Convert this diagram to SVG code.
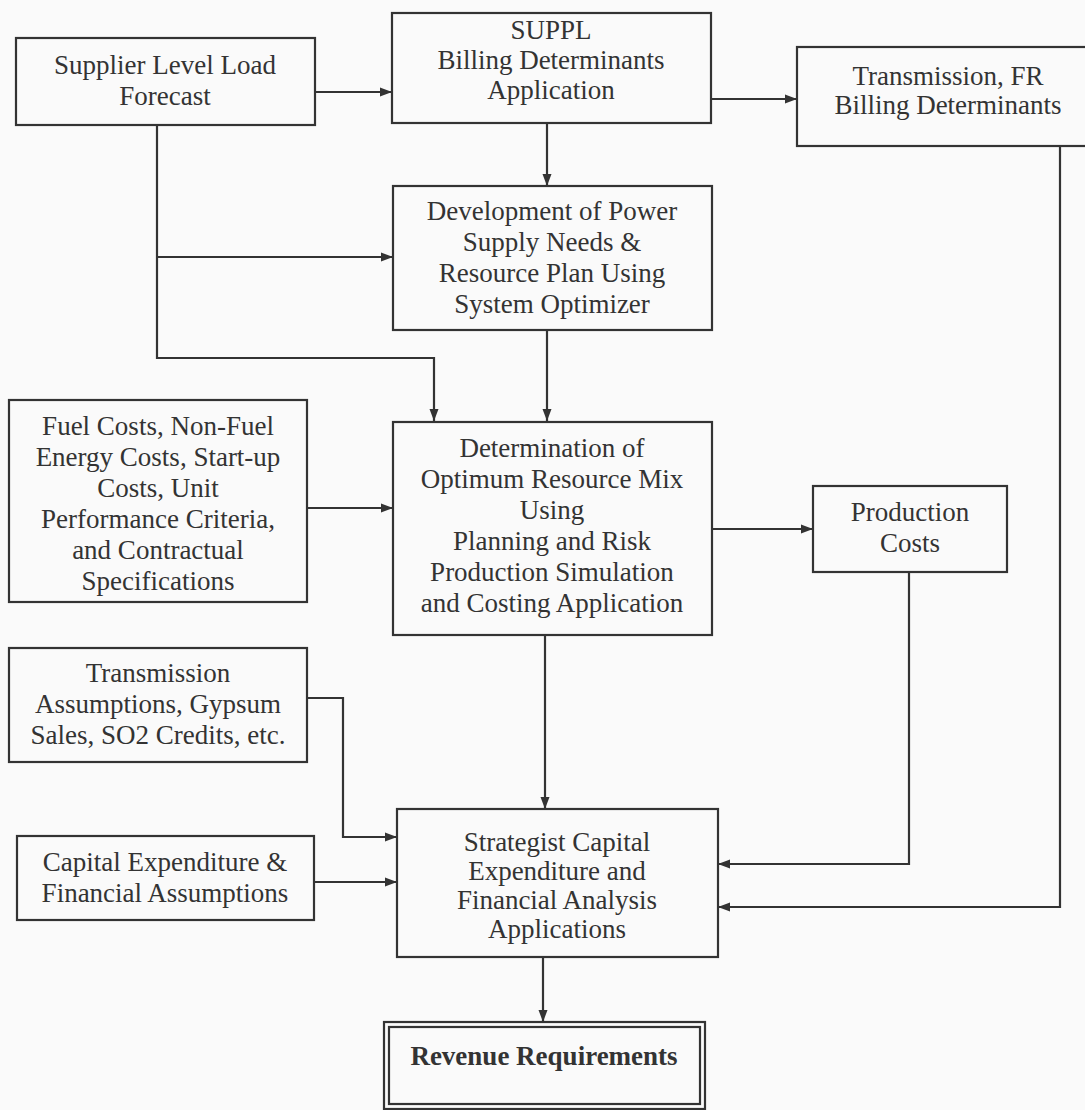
<svg xmlns="http://www.w3.org/2000/svg" width="1085" height="1110" viewBox="0 0 1085 1110">
<defs>
<marker id="arr" markerUnits="userSpaceOnUse" markerWidth="12" markerHeight="10" refX="12" refY="5" orient="auto">
<path d="M0,0.5 L12,5 L0,9.5 Z" fill="#333"/>
</marker>
<style>
.box{fill:none;stroke:#333;stroke-width:2.2}
.t{font-family:"Liberation Serif","Times New Roman",serif;font-size:27px;fill:#333;text-anchor:middle}
.b{font-weight:bold}
.c{fill:none;stroke:#333;stroke-width:2.2;marker-end:url(#arr)}
</style>
</defs>
<rect width="1085" height="1110" fill="#fafafa"/>

<g id="connectors">
<path class="c" d="M315,92 H392"/>
<path class="c" d="M711,99 H797"/>
<path class="c" d="M547,123 V186"/>
<path class="c" d="M157,125 V358 H434 V421"/>
<path class="c" d="M157,257 H393"/>
<path class="c" d="M547,330 V421"/>
<path class="c" d="M307,508 H393"/>
<path class="c" d="M712,529 H813"/>
<path class="c" d="M545,635 V809"/>
<path class="c" d="M307,698 H343 V837 H397"/>
<path class="c" d="M314,882 H397"/>
<path class="c" d="M909,572 V864 H718"/>
<path class="c" d="M1060,146 V907 H718"/>
<path class="c" d="M543,957 V1022"/>
</g>

<g id="load-forecast">
<rect class="box" x="16" y="38" width="299" height="87"/>
<text class="t" x="165" y="74">Supplier Level Load</text>
<text class="t" x="165" y="105">Forecast</text>
</g>

<g id="suppl">
<rect class="box" x="392" y="13" width="319" height="110"/>
<text class="t" x="551" y="39">SUPPL</text>
<text class="t" x="551" y="69">Billing Determinants</text>
<text class="t" x="551" y="99">Application</text>
</g>

<g id="transmission-fr">
<rect class="box" x="797" y="47" width="310" height="99"/>
<text class="t" x="948" y="85">Transmission, FR</text>
<text class="t" x="948" y="114">Billing Determinants</text>
</g>

<g id="development">
<rect class="box" x="393" y="186" width="319" height="144"/>
<text class="t" x="552" y="220">Development of Power</text>
<text class="t" x="552" y="251">Supply Needs &amp;</text>
<text class="t" x="552" y="282">Resource Plan Using</text>
<text class="t" x="552" y="313">System Optimizer</text>
</g>

<g id="fuel-costs">
<rect class="box" x="9" y="400" width="298" height="202"/>
<text class="t" x="158" y="435">Fuel Costs, Non-Fuel</text>
<text class="t" x="158" y="466">Energy Costs, Start-up</text>
<text class="t" x="158" y="497">Costs, Unit</text>
<text class="t" x="158" y="528">Performance Criteria,</text>
<text class="t" x="158" y="559">and Contractual</text>
<text class="t" x="158" y="590">Specifications</text>
</g>

<g id="determination">
<rect class="box" x="393" y="422" width="319" height="213"/>
<text class="t" x="552" y="457">Determination of</text>
<text class="t" x="552" y="488">Optimum Resource Mix</text>
<text class="t" x="552" y="519">Using</text>
<text class="t" x="552" y="550">Planning and Risk</text>
<text class="t" x="552" y="581">Production Simulation</text>
<text class="t" x="552" y="612">and Costing Application</text>
</g>

<g id="production-costs">
<rect class="box" x="813" y="486" width="194" height="86"/>
<text class="t" x="910" y="521">Production</text>
<text class="t" x="910" y="552">Costs</text>
</g>

<g id="transmission-assumptions">
<rect class="box" x="9" y="648" width="298" height="114"/>
<text class="t" x="158" y="682">Transmission</text>
<text class="t" x="158" y="713">Assumptions, Gypsum</text>
<text class="t" x="158" y="744">Sales, SO2 Credits, etc.</text>
</g>

<g id="capital-expenditure">
<rect class="box" x="17" y="836" width="297" height="84"/>
<text class="t" x="165" y="871">Capital Expenditure &amp;</text>
<text class="t" x="165" y="902">Financial Assumptions</text>
</g>

<g id="strategist">
<rect class="box" x="397" y="809" width="321" height="148"/>
<text class="t" x="557" y="851">Strategist Capital</text>
<text class="t" x="557" y="880">Expenditure and</text>
<text class="t" x="557" y="909">Financial Analysis</text>
<text class="t" x="557" y="938">Applications</text>
</g>

<g id="revenue">
<rect class="box" x="384" y="1022" width="321" height="87"/>
<rect class="box" x="389" y="1027" width="311" height="77" stroke-width="1.5"/>
<text class="t b" x="544" y="1065">Revenue Requirements</text>
</g>
</svg>
